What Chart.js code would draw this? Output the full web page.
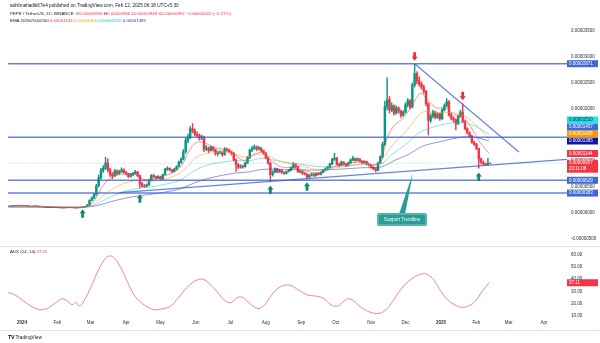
<!DOCTYPE html>
<html lang="en">
<head>
<meta charset="UTF-8">
<meta name="viewport" content="width=device-width, initial-scale=1.0">
<title>PEPE / TetherUS 1D</title>
<script src="https://cdn.jsdelivr.net/npm/chart.js"></script>
<style>
  html, body { margin: 0; padding: 0; background: #fff; }
  body { width: 600px; height: 343px; position: relative; overflow: hidden;
         font-family: "Liberation Sans", Arial, sans-serif; color: #131722; }
  canvas { position: absolute; left: 0; }
  #priceChart { top: 0; }
  #adxChart { top: 247px; }
  .txt { position: absolute; left: 10px; white-space: nowrap; font-size: 4.4px; line-height: 5px; z-index: 2; }
  .red { color: #f23645; }
  .sep { position: absolute; left: 0; width: 600px; height: 1px; background: #e0e3eb; }
  #logo { position: absolute; left: 8px; top: 334px; font-size: 4.8px; white-space: nowrap; }
  #logo b { font-size: 5.5px; letter-spacing: -0.4px; }
</style>
</head>
<body>
<canvas id="priceChart" width="600" height="247"></canvas>
<canvas id="adxChart" width="600" height="86"></canvas>
<div class="sep" style="top:246px"></div>
<div class="sep" style="top:330px"></div>

<div class="txt" style="top:2.5px; font-size:4.7px">sahilmahadik67e4 published on TradingView.com, Feb 12, 2025 06:18 UTC+5:30</div>
<div class="txt" style="top:11px">PEPE / TetherUS, 1D, BINANCE&nbsp; O<span class="red">0.00000958</span> H<span class="red">0.00000966</span> L<span class="red">0.00000949</span> C<span class="red">0.00000957</span> <span class="red">−0.00000002 (−0.21%)</span></div>
<div class="txt" style="top:17.5px">EMA 20/50/100/200 <span style="color:#f23645">0.00001144</span> <span style="color:#ff9800">0.00001426</span> <span style="color:#00bcd4">0.00001510</span> <span style="color:#2a2fb8">0.00001385</span></div>
<div class="txt" style="top:249px">ADX (14, 14) <span class="red">37.11</span></div>
<div id="logo"><b>TV</b> TradingView</div>

<script>
// day 0 = Jan 1 2024, candles grouped by 2 days, prices in millionths (1 = 0.000001)
const firstDay = -12;
const span = 2;

const openP = [
  1.28,1.30,1.38,1.42,1.36,1.45,1.40,1.38,1.42,1.30,
  1.25,1.28,1.34,1.30,1.22,1.20,1.15,1.12,1.05,1.08,
  1.10,1.06,1.02,1.00,0.98,1.00,1.03,1.05,1.02,1.00,
  0.98,1.02,1.08,1.15,1.25,1.55,2.40,2.90,3.60,5.20,
  6.80,8.20,8.60,9.60,8.30,7.40,7.20,8.10,7.60,7.90,
  8.30,7.80,7.50,7.00,7.40,7.60,7.90,7.20,5.60,5.20,
  5.10,5.40,6.30,7.20,7.00,6.70,7.00,6.60,7.40,8.40,
  8.60,8.30,8.00,8.40,8.90,9.80,10.40,11.80,14.00,14.60,
  16.20,15.80,15.10,14.90,14.40,14.60,12.30,12.50,12.00,12.60,
  12.20,11.40,11.60,11.70,11.20,12.30,12.10,11.80,11.50,10.20,
  9.30,8.80,9.00,8.90,9.60,10.60,12.10,12.40,12.70,12.30,
  12.50,12.00,11.50,10.60,9.60,7.40,7.90,8.50,7.90,8.20,
  7.80,7.60,8.00,8.20,8.70,9.40,8.90,7.90,8.00,7.60,
  7.50,6.90,7.30,7.50,7.20,7.60,7.40,7.80,8.30,8.50,
  8.80,9.40,10.30,10.60,9.40,9.20,9.80,9.40,9.10,9.60,
  10.20,10.50,10.10,10.40,10.00,9.70,9.90,9.40,9.20,8.80,
  8.50,8.20,9.60,10.80,13.20,20.50,21.80,19.80,20.60,19.20,
  20.20,19.60,18.80,19.40,20.80,21.60,20.40,24.60,26.80,25.40,
  24.80,24.20,23.40,21.00,17.80,18.60,19.40,18.40,19.00,18.10,
  19.80,20.60,21.40,18.80,18.20,17.90,17.20,18.60,19.40,17.60,
  16.20,15.40,14.80,13.60,13.20,12.40,10.40,9.80,9.40,9.30,
  9.58
];
const highP = [
  1.36,1.42,1.46,1.44,1.50,1.48,1.44,1.47,1.43,1.33,
  1.31,1.38,1.36,1.31,1.25,1.22,1.17,1.13,1.10,1.13,
  1.11,1.08,1.04,1.02,1.03,1.05,1.08,1.06,1.04,1.01,
  1.04,1.10,1.18,1.30,1.62,2.55,3.10,3.80,5.50,7.30,
  8.60,9.10,10.70,10.40,8.60,7.80,8.40,8.30,8.20,8.70,
  8.50,8.00,7.60,7.60,7.80,8.20,8.00,7.30,5.90,5.50,
  5.60,6.50,7.40,7.50,7.10,7.20,7.10,7.50,8.60,8.90,
  8.70,8.40,8.60,9.10,10.00,10.60,12.20,14.40,15.20,16.60,
  17.20,16.20,15.60,15.20,15.00,14.80,13.00,12.70,12.90,12.80,
  12.30,11.90,12.00,11.80,12.60,12.50,12.30,11.90,11.60,10.40,
  9.50,9.30,9.20,9.80,10.90,12.30,12.80,13.10,12.90,12.80,
  12.60,12.10,11.60,10.80,9.70,8.10,8.70,8.60,8.40,8.30,
  7.90,8.10,8.40,8.90,9.70,9.50,9.00,8.20,8.10,7.80,
  7.60,7.40,7.60,7.60,7.70,7.70,7.90,8.40,8.70,9.00,
  9.60,10.50,11.50,10.70,9.60,10.00,9.90,9.50,9.80,10.40,
  10.90,10.60,10.60,10.50,10.10,10.10,10.00,9.50,9.30,8.90,
  8.70,9.80,11.00,13.60,21.50,26.00,22.40,21.20,20.80,20.60,
  20.40,19.80,19.70,21.20,22.00,21.80,25.00,28.60,27.20,26.20,
  25.20,24.60,23.60,21.20,19.00,19.80,19.60,19.30,19.20,20.10,
  21.00,22.00,21.60,19.10,18.50,18.10,18.80,19.80,21.00,17.80,
  16.40,15.60,15.00,13.90,13.40,12.50,10.60,10.00,9.60,10.50,
  9.66
];
const lowP = [
  1.25,1.28,1.35,1.32,1.34,1.36,1.34,1.36,1.26,1.20,
  1.22,1.26,1.27,1.19,1.17,1.12,1.09,1.02,1.03,1.06,
  1.04,1.00,0.97,0.95,0.96,0.99,1.01,1.00,0.98,0.95,
  0.97,1.01,1.06,1.13,1.22,1.50,2.30,2.70,3.40,5.00,
  6.50,7.80,8.40,7.90,7.00,6.60,7.00,7.30,7.40,7.80,
  7.60,7.30,6.80,6.90,7.20,7.50,7.00,4.80,5.00,4.90,
  5.00,5.30,6.20,6.80,6.50,6.60,6.30,6.40,7.30,8.20,
  8.10,7.80,7.90,8.30,8.80,9.50,10.20,11.50,13.50,14.30,
  15.40,14.80,14.50,14.00,14.10,11.80,12.00,11.60,11.90,11.90,
  11.10,11.00,11.40,10.90,11.10,11.90,11.60,11.20,10.00,8.00,
  8.50,8.60,8.60,8.80,9.50,10.50,11.80,12.20,12.00,12.10,
  11.80,11.30,10.40,9.40,6.00,7.10,7.70,7.70,7.80,7.60,
  7.40,7.50,7.90,8.10,8.60,8.70,7.80,7.70,7.40,7.30,
  6.50,6.80,7.10,7.00,7.10,7.30,7.30,7.70,8.20,8.40,
  8.70,9.30,10.10,9.20,8.90,9.10,9.20,8.90,9.00,9.50,
  10.00,9.90,10.00,9.80,9.50,9.60,9.20,9.00,8.60,8.30,
  7.90,8.10,9.50,10.60,13.00,19.80,19.20,19.50,18.80,19.00,
  19.20,18.40,18.60,19.20,20.40,20.00,20.20,24.20,24.80,24.40,
  23.80,23.00,20.60,15.00,17.40,18.30,18.10,18.20,17.80,18.00,
  19.60,20.40,18.60,17.90,17.50,16.00,17.00,18.40,17.40,16.00,
  15.20,14.60,13.40,13.00,12.20,8.60,9.40,9.20,9.10,9.20,
  9.49
];
const closeP = [
  1.30,1.38,1.42,1.36,1.45,1.40,1.38,1.42,1.30,1.25,
  1.28,1.34,1.30,1.22,1.20,1.15,1.12,1.05,1.08,1.10,
  1.06,1.02,1.00,0.98,1.00,1.03,1.05,1.02,1.00,0.98,
  1.02,1.08,1.15,1.25,1.55,2.40,2.90,3.60,5.20,6.80,
  8.20,8.60,9.60,8.30,7.40,7.20,8.10,7.60,7.90,8.30,
  7.80,7.50,7.00,7.40,7.60,7.90,7.20,5.60,5.20,5.10,
  5.40,6.30,7.20,7.00,6.70,7.00,6.60,7.40,8.40,8.60,
  8.30,8.00,8.40,8.90,9.80,10.40,11.80,14.00,14.60,16.20,
  15.80,15.10,14.90,14.40,14.60,12.30,12.50,12.00,12.60,12.20,
  11.40,11.60,11.70,11.20,12.30,12.10,11.80,11.50,10.20,9.30,
  8.80,9.00,8.90,9.60,10.60,12.10,12.40,12.70,12.30,12.50,
  12.00,11.50,10.60,9.60,7.40,7.90,8.50,7.90,8.20,7.80,
  7.60,8.00,8.20,8.70,9.40,8.90,7.90,8.00,7.60,7.50,
  6.90,7.30,7.50,7.20,7.60,7.40,7.80,8.30,8.50,8.80,
  9.40,10.30,10.60,9.40,9.20,9.80,9.40,9.10,9.60,10.20,
  10.50,10.10,10.40,10.00,9.70,9.90,9.40,9.20,8.80,8.50,
  8.20,9.60,10.80,13.20,20.50,21.80,19.80,20.60,19.20,20.20,
  19.60,18.80,19.40,20.80,21.60,20.40,24.60,26.80,25.40,24.80,
  24.20,23.40,21.00,17.80,18.60,19.40,18.40,19.00,18.10,19.80,
  20.60,21.40,18.80,18.20,17.90,17.20,18.60,19.40,17.60,16.20,
  15.40,14.80,13.60,13.20,12.40,10.40,9.80,9.40,9.30,9.60,
  9.57
];

// EMA lines (day, value)
const ema20Day = [-12,10,30,50,58,64,70,76,86,98,106,114,124,134,140,146,152,158,168,178,186,194,202,210,218,226,236,246,256,266,274,290,300,308,314,318,324,332,340,348,354,362,370,378,384,392,400,408];
const ema20    = [1.33,1.36,1.12,1.02,1.40,2.60,5.00,6.50,7.40,7.50,6.50,6.50,7.10,8.00,9.30,11.9,13.5,13.6,12.6,12.1,11.2,10.1,11.2,11.6,10.0,8.90,8.70,8.20,7.70,8.10,9.10,9.70,9.80,9.20,10.2,13.8,16.5,18.1,20.3,23.0,21.8,20.2,20.2,18.9,18.8,16.6,13.6,11.44];
const ema50Day = [-12,20,40,54,62,70,78,86,94,102,110,122,134,142,150,158,170,182,194,206,214,222,234,246,258,270,286,298,310,318,326,334,342,350,362,374,382,390,398,408];
const ema50    = [1.30,1.25,1.17,1.15,1.57,3.13,4.48,5.44,5.97,6.26,6.06,6.40,7.17,8.38,10.3,11.3,11.6,11.65,10.75,11.28,11.17,10.29,9.46,8.96,8.35,8.58,9.08,9.46,9.26,11.34,13.68,15.31,17.55,19.42,19.26,19.33,19.06,18.2,16.59,14.26];
const ema100Day = [-12,30,54,62,70,78,90,102,114,126,138,150,162,174,186,198,210,222,234,250,266,282,298,314,322,334,346,358,370,382,394,402,408];
const ema100    = [1.22,1.20,1.18,1.40,2.26,3.13,4.14,4.77,5.05,5.57,6.31,8.09,9.22,9.77,10.06,10.03,10.49,10.08,9.66,9.17,8.83,9.05,9.32,9.45,11.11,12.94,15.31,16.44,17.12,17.40,16.90,15.95,15.10];
const ema200Day = [-12,54,66,78,90,102,114,126,138,150,162,174,186,198,210,230,258,274,298,314,326,338,350,366,382,394,408];
const ema200    = [1.12,1.13,1.43,2.19,2.83,3.32,3.63,4.07,4.62,5.74,6.61,7.20,7.65,7.90,8.39,8.39,8.25,8.39,8.71,8.88,10.17,11.30,12.85,13.75,14.53,14.61,13.85];

// drawn levels and trendlines
const levelPrices = [28.71, 14.57, 6.29, 3.83];
const lastPrice = 9.57;
const resistDay = [343.3, 434.1], resistPrice = [28.65, 11.73];
const supportDay = [85, 476], supportPrice = [3.9, 10.3];
const upArrowDay = [53, 103, 217, 249, 399], upArrowPrice = [0.7, 3.6, 5.3, 5.9, 7.8];
const downArrowDay = [343, 385], downArrowPrice = [29.3, 21.7];
const calloutText = 'Support Trendline';
const calloutAnchor = [341.5, 7.7], calloutBox = [332, -1.25];

// right-axis price tags
const tagValues = [28.71, 15.10, 14.57, 14.26, 13.85, 11.44, 9.57, 6.29, 3.83];
const tagBg   = ['#4069d6','#1fe3ea','#4069d6','#ff9800','#1414a6','#f23645','#f23645','#4069d6','#4069d6'];
const tagFg   = ['#fff','#131722','#fff','#fff','#fff','#fff','#fff','#fff','#fff'];
const countdown = '23:11:08';
const priceTicks = [-5, 0, 5, 10, 15, 20, 25, 30, 35];

// ADX (14, 14) (day, value)
const adxDay = [-12,-6,0,6,12,18,24,30,35,40,44,47,50,54,60,66,72,76,80,86,92,98,104,110,116,124,130,136,144,152,158,164,172,178,183,188,193,198,206,212,218,226,234,242,250,258,264,270,276,280,285,290,296,304,312,318,324,332,340,348,354,360,366,372,378,384,390,396,402,408];
const adx    = [29,27,23,19,16,15,17,21,24,22,19,21,18,22,33,46,56,59,58,50,38,27,21,17,15,16,18,24,33,39,40,36,28,22,21,25,25,21,16,19,27,34,35,31,27,26,24,19,18,21,24,22,17,13,12,15,22,33,40,44,44,39,30,23,19,17,18,22,30,37.11];
const adxTicks = [10, 20, 30, 40, 50, 60];

const monthDays = [0,31,60,91,121,152,182,213,244,274,305,335,366,397,425,456];
const monthLabels = ['2024','Feb','Mar','Apr','May','Jun','Jul','Aug','Sep','Oct','Nov','Dec','2025','Feb','Mar','Apr'];

const xMin = -12.2, xMax = 476.1;
const UP = '#089981', DOWN = '#f23645';
const LEVEL = 'rgba(64,100,212,0.8)';
const FONT = '"Liberation Sans", Arial, sans-serif';

const pts = (xs, ys) => xs.map((x, i) => ({ x, y: ys[i] }));
const candleX = closeP.map((_, i) => firstDay + span * i + span / 2);
const candleCol = closeP.map((c, i) => c >= openP[i] ? UP : DOWN);

function drawArrow(ctx, px, py, up, color) {
  const d = up ? 1 : -1;
  ctx.fillStyle = color;
  ctx.beginPath();
  ctx.moveTo(px, py);
  ctx.lineTo(px + 3, py + 4 * d);
  ctx.lineTo(px + 1.4, py + 4 * d);
  ctx.lineTo(px + 1.4, py + 8.5 * d);
  ctx.lineTo(px - 1.4, py + 8.5 * d);
  ctx.lineTo(px - 1.4, py + 4 * d);
  ctx.lineTo(px - 3, py + 4 * d);
  ctx.closePath();
  ctx.fill();
}

function drawTag(ctx, left, y, h, bg, fg, lines) {
  ctx.fillStyle = bg;
  ctx.fillRect(left, y - 3.5, 31, h);
  ctx.fillStyle = fg;
  ctx.font = '4.5px ' + FONT;
  ctx.textAlign = 'left';
  ctx.textBaseline = 'middle';
  lines.forEach((t, k) => ctx.fillText(t, left + 2, y + k * 6));
}

const priceOverlay = {
  id: 'priceOverlay',
  afterDatasetsDraw(chart) {
    const { ctx, scales: { x, y } } = chart;
    ctx.save();
    upArrowDay.forEach((d, i) => drawArrow(ctx, x.getPixelForValue(d), y.getPixelForValue(upArrowPrice[i]), true, '#0f8a6f'));
    downArrowDay.forEach((d, i) => drawArrow(ctx, x.getPixelForValue(d), y.getPixelForValue(downArrowPrice[i]), false, '#e0313c'));

    // callout
    const ax = x.getPixelForValue(calloutAnchor[0]), ay = y.getPixelForValue(calloutAnchor[1]);
    const bx = x.getPixelForValue(calloutBox[0]), by = y.getPixelForValue(calloutBox[1]);
    const w = 50, h = 13;
    ctx.fillStyle = '#2a9d94';
    ctx.beginPath();
    ctx.moveTo(bx - 3, by - h / 2 + 1);
    ctx.lineTo(ax, ay);
    ctx.lineTo(bx + 3, by - h / 2 + 1);
    ctx.closePath();
    ctx.fill();
    ctx.beginPath();
    ctx.roundRect(bx - w / 2, by - h / 2, w, h, 2.5);
    ctx.fill();
    ctx.strokeStyle = 'rgba(160,225,220,0.9)';
    ctx.lineWidth = 0.8;
    ctx.beginPath();
    ctx.roundRect(bx - w / 2 + 1, by - h / 2 + 1, w - 2, h - 2, 2);
    ctx.stroke();
    ctx.fillStyle = '#fff';
    ctx.font = '4.6px ' + FONT;
    ctx.textAlign = 'center';
    ctx.textBaseline = 'middle';
    ctx.fillText(calloutText, bx, by + 0.3);
    ctx.restore();
  },
  afterDraw(chart) {
    const { ctx, scales: { y }, chartArea } = chart;
    ctx.save();
    const items = tagValues.map((v, i) => ({ v, i, y: y.getPixelForValue(v), h: v === lastPrice ? 13 : 7 }))
      .sort((a, b) => b.y - a.y);
    let prevTop = Infinity;
    items.forEach(it => {
      it.y = Math.min(it.y, prevTop + 3.5 - it.h);
      prevTop = it.y - 3.5;
      const lines = [(it.v / 1e6).toFixed(8)];
      if (it.v === lastPrice) lines.push(countdown);
      drawTag(ctx, chartArea.right, it.y, it.h, tagBg[it.i], tagFg[it.i], lines);
    });
    ctx.restore();
  }
};

const adxOverlay = {
  id: 'adxOverlay',
  afterDraw(chart) {
    const { ctx, scales: { y }, chartArea } = chart;
    ctx.save();
    const v = adx[adx.length - 1];
    drawTag(ctx, chartArea.right, y.getPixelForValue(v), 7, '#f23645', '#fff', [v.toFixed(2)]);
    ctx.restore();
  }
};

const lineDs = (data, color, width, order, extra) => Object.assign({
  type: 'line', data, borderColor: color, borderWidth: width, pointRadius: 0,
  tension: 0.35, order
}, extra || {});

new Chart(document.getElementById('priceChart'), {
  type: 'bar',
  data: {
    datasets: [
      ...levelPrices.map(p => lineDs([{ x: xMin, y: p }, { x: xMax, y: p }], LEVEL, 1.5, 0, { tension: 0 })),
      lineDs(pts(resistDay, resistPrice), LEVEL, 1.2, 0, { tension: 0 }),
      lineDs(pts(supportDay, supportPrice), LEVEL, 1.2, 0, { tension: 0 }),
      lineDs([{ x: xMin, y: lastPrice }, { x: xMax, y: lastPrice }], 'rgba(120,123,134,0.45)', 0.8, 0, { tension: 0, borderDash: [1, 1.5] }),
      lineDs(pts(ema20Day, ema20), 'rgba(242,54,69,0.6)', 0.9, 1),
      lineDs(pts(ema50Day, ema50), 'rgba(255,152,0,0.55)', 0.9, 1),
      lineDs(pts(ema100Day, ema100), 'rgba(0,188,212,0.5)', 0.9, 1),
      lineDs(pts(ema200Day, ema200), 'rgba(40,44,180,0.55)', 0.9, 1),
      {
        type: 'bar', order: 2, grouped: false, barThickness: 0.8,
        data: candleX.map((x, i) => ({ x, y: [lowP[i], highP[i]] })),
        backgroundColor: candleCol, borderWidth: 0
      },
      {
        type: 'bar', order: 2, grouped: false, barThickness: 1.8,
        data: candleX.map((x, i) => ({ x, y: [openP[i], closeP[i]] })),
        backgroundColor: candleCol, borderWidth: 0
      }
    ]
  },
  options: {
    responsive: false,
    animation: false,
    events: [],
    layout: { padding: { top: 18, left: 8, right: 0, bottom: 0 } },
    plugins: { legend: { display: false }, tooltip: { enabled: false } },
    scales: {
      x: { type: 'linear', min: xMin, max: xMax, offset: false, display: false },
      y: {
        position: 'right', min: -6.54, max: 37.5, beginAtZero: false,
        grid: { display: false, drawTicks: false }, border: { display: false },
        afterBuildTicks: s => { s.ticks = priceTicks.map(v => ({ value: v })); },
        afterFit: s => { s.width = 33; s.paddingTop = 0; s.paddingBottom = 0; },
        ticks: { padding: 4, color: '#2a2e39', font: { size: 4.5, family: FONT },
                 callback: v => (v / 1e6).toFixed(8) }
      }
    }
  },
  plugins: [priceOverlay]
});

new Chart(document.getElementById('adxChart'), {
  type: 'line',
  data: {
    datasets: [{
      data: pts(adxDay, adx), borderColor: 'rgba(240,110,125,0.85)', borderWidth: 1,
      pointRadius: 0, tension: 0.4
    }]
  },
  options: {
    responsive: false,
    animation: false,
    events: [],
    layout: { padding: { top: 1, left: 8, right: 0, bottom: 0 } },
    plugins: { legend: { display: false }, tooltip: { enabled: false } },
    scales: {
      x: {
        type: 'linear', min: xMin, max: xMax,
        grid: { display: false, drawTicks: false }, border: { display: false },
        afterBuildTicks: s => { s.ticks = monthDays.map(v => ({ value: v })); },
        afterFit: s => { s.height = 15; s.paddingLeft = 0; s.paddingRight = 0; },
        ticks: {
          autoSkip: false, maxRotation: 0, padding: 2, color: '#2a2e39',
          font: c => ({ size: 4.5, family: FONT, weight: (c.tick && (c.tick.value === 0 || c.tick.value === 366)) ? 'bold' : 'normal' }),
          callback: (v, i) => monthLabels[i]
        }
      },
      y: {
        position: 'right', min: 8.2, max: 65.6,
        grid: { display: false, drawTicks: false }, border: { display: false },
        afterBuildTicks: s => { s.ticks = adxTicks.map(v => ({ value: v })); },
        afterFit: s => { s.width = 33; s.paddingTop = 0; s.paddingBottom = 0; },
        ticks: { padding: 4, color: '#2a2e39', font: { size: 4.5, family: FONT },
                 callback: v => v.toFixed(2) }
      }
    }
  },
  plugins: [adxOverlay]
});
</script>
</body>
</html>
